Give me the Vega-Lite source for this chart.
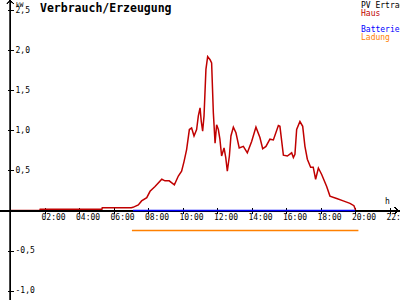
{
  "$schema": "https://vega.github.io/schema/vega-lite/v6.json",
  "width": 400,
  "height": 300,
  "autosize": {"type": "none"},
  "padding": 0,
  "background": "white",
  "config": {"view": {"stroke": null}, "font": "DejaVu Sans Mono",
    "axisX": {"orient": "bottom", "offset": -92.5, "labelExpr": "(datum.value < 10 ? '0' : '') + datum.value + ':00'", "domain": false, "grid": false, "tickSize": 6, "tickColor": "black", "tickWidth": 1, "labelFont": "DejaVu Sans Mono", "labelFontSize": 8, "labelColor": "black", "labelAlign": "left", "labelOffset": -4, "labelPadding": 0, "labelBound": false, "labelOverlap": false, "labelSeparation": 0, "labelFlush": false, "titleFont": "DejaVu Sans Mono", "titleFontSize": 8, "titleFontWeight": "normal", "titleColor": "black", "titleX": 387, "titleY": -4, "titleAlign": "center", "titleBaseline": "alphabetic", "titleAnchor": null},
    "axisY": {"orient": "right", "offset": -392.5, "labelExpr": "replace(replace(format(datum.value, '.1f'), '.', ','), '\u2212', '-')", "domain": false, "grid": false, "tickSize": 6, "tickColor": "black", "tickWidth": 1, "labelFont": "DejaVu Sans Mono", "labelFontSize": 8, "labelColor": "black", "labelPadding": 1.5, "labelBound": false, "labelOverlap": false, "labelFlush": false, "labelAlign": "left", "labelBaseline": "middle", "titleFont": "DejaVu Sans Mono", "titleFontSize": 6.5, "titleFontWeight": "normal", "titleColor": "black", "titleAngle": 0, "titleX": 7.7, "titleY": 6, "titleAlign": "left", "titleBaseline": "alphabetic", "titleAnchor": null}
  },
  "title": {"text": "Verbrauch/Erzeugung", "anchor": "start", "frame": "group", "orient": "top", "offset": -25, "dx": 40, "baseline": "alphabetic", "font": "DejaVu Sans Mono", "fontSize": 11.5, "fontWeight": "bold", "color": "black"},
  "data": {"values": [
    {"t": 0, "kw": 0, "s": "Haus"},
    {"t": 1.7, "kw": 0, "s": "Haus"},
    {"t": 1.72, "kw": 0.015, "s": "Haus"},
    {"t": 5.3, "kw": 0.015, "s": "Haus"},
    {"t": 5.32, "kw": 0.035, "s": "Haus"},
    {"t": 7.0, "kw": 0.035, "s": "Haus"},
    {"t": 7.1, "kw": 0.04, "s": "Haus"},
    {"t": 7.41, "kw": 0.07, "s": "Haus"},
    {"t": 7.6, "kw": 0.12, "s": "Haus"},
    {"t": 7.9, "kw": 0.16, "s": "Haus"},
    {"t": 8.09, "kw": 0.24, "s": "Haus"},
    {"t": 8.38, "kw": 0.30, "s": "Haus"},
    {"t": 8.77, "kw": 0.39, "s": "Haus"},
    {"t": 8.96, "kw": 0.37, "s": "Haus"},
    {"t": 9.2, "kw": 0.37, "s": "Haus"},
    {"t": 9.5, "kw": 0.32, "s": "Haus"},
    {"t": 9.73, "kw": 0.43, "s": "Haus"},
    {"t": 9.92, "kw": 0.49, "s": "Haus"},
    {"t": 10.06, "kw": 0.61, "s": "Haus"},
    {"t": 10.21, "kw": 0.76, "s": "Haus"},
    {"t": 10.37, "kw": 1.01, "s": "Haus"},
    {"t": 10.5, "kw": 1.03, "s": "Haus"},
    {"t": 10.64, "kw": 0.93, "s": "Haus"},
    {"t": 10.79, "kw": 1.01, "s": "Haus"},
    {"t": 10.89, "kw": 1.18, "s": "Haus"},
    {"t": 10.99, "kw": 1.28, "s": "Haus"},
    {"t": 11.06, "kw": 1.11, "s": "Haus"},
    {"t": 11.14, "kw": 0.99, "s": "Haus"},
    {"t": 11.22, "kw": 1.18, "s": "Haus"},
    {"t": 11.33, "kw": 1.76, "s": "Haus"},
    {"t": 11.43, "kw": 1.92, "s": "Haus"},
    {"t": 11.57, "kw": 1.88, "s": "Haus"},
    {"t": 11.66, "kw": 1.84, "s": "Haus"},
    {"t": 11.76, "kw": 1.22, "s": "Haus"},
    {"t": 11.86, "kw": 0.84, "s": "Haus"},
    {"t": 11.95, "kw": 1.07, "s": "Haus"},
    {"t": 12.05, "kw": 1.01, "s": "Haus"},
    {"t": 12.14, "kw": 0.89, "s": "Haus"},
    {"t": 12.24, "kw": 0.68, "s": "Haus"},
    {"t": 12.38, "kw": 0.78, "s": "Haus"},
    {"t": 12.48, "kw": 0.66, "s": "Haus"},
    {"t": 12.57, "kw": 0.49, "s": "Haus"},
    {"t": 12.69, "kw": 0.68, "s": "Haus"},
    {"t": 12.78, "kw": 0.93, "s": "Haus"},
    {"t": 12.92, "kw": 1.04, "s": "Haus"},
    {"t": 13.07, "kw": 0.97, "s": "Haus"},
    {"t": 13.26, "kw": 0.78, "s": "Haus"},
    {"t": 13.5, "kw": 0.80, "s": "Haus"},
    {"t": 13.73, "kw": 0.72, "s": "Haus"},
    {"t": 13.98, "kw": 0.86, "s": "Haus"},
    {"t": 14.23, "kw": 1.04, "s": "Haus"},
    {"t": 14.46, "kw": 0.91, "s": "Haus"},
    {"t": 14.62, "kw": 0.77, "s": "Haus"},
    {"t": 14.81, "kw": 0.80, "s": "Haus"},
    {"t": 15.04, "kw": 0.89, "s": "Haus"},
    {"t": 15.24, "kw": 0.88, "s": "Haus"},
    {"t": 15.53, "kw": 1.06, "s": "Haus"},
    {"t": 15.62, "kw": 1.05, "s": "Haus"},
    {"t": 15.82, "kw": 0.69, "s": "Haus"},
    {"t": 16.05, "kw": 0.68, "s": "Haus"},
    {"t": 16.3, "kw": 0.72, "s": "Haus"},
    {"t": 16.4, "kw": 0.66, "s": "Haus"},
    {"t": 16.49, "kw": 0.70, "s": "Haus"},
    {"t": 16.59, "kw": 1.01, "s": "Haus"},
    {"t": 16.78, "kw": 1.11, "s": "Haus"},
    {"t": 16.94, "kw": 1.05, "s": "Haus"},
    {"t": 17.07, "kw": 0.80, "s": "Haus"},
    {"t": 17.21, "kw": 0.64, "s": "Haus"},
    {"t": 17.4, "kw": 0.54, "s": "Haus"},
    {"t": 17.55, "kw": 0.54, "s": "Haus"},
    {"t": 17.69, "kw": 0.39, "s": "Haus"},
    {"t": 17.85, "kw": 0.53, "s": "Haus"},
    {"t": 18.04, "kw": 0.45, "s": "Haus"},
    {"t": 18.33, "kw": 0.30, "s": "Haus"},
    {"t": 18.52, "kw": 0.18, "s": "Haus"},
    {"t": 18.91, "kw": 0.15, "s": "Haus"},
    {"t": 19.29, "kw": 0.12, "s": "Haus"},
    {"t": 19.68, "kw": 0.09, "s": "Haus"},
    {"t": 19.91, "kw": 0.06, "s": "Haus"},
    {"t": 20.0, "kw": 0.01, "s": "Haus"},
    {"t": 20.02, "kw": 0, "s": "Haus"},
    {"t": 7.1, "kw": 0, "s": "Batterie"},
    {"t": 19.97, "kw": 0, "s": "Batterie"},
    {"t": 7.04, "kw": -0.25, "s": "Ladung"},
    {"t": 20.17, "kw": -0.25, "s": "Ladung"}
  ]},
  "layer": [
    {
      "mark": {"type": "line", "strokeWidth": 1.5, "interpolate": "linear"},
      "transform": [{"filter": "datum.s != 'Batterie'"}],
      "encoding": {
        "x": {"field": "t", "type": "quantitative",
          "scale": {"domain": [-0.6087, 22.5813], "nice": false, "zero": false},
          "axis": {"title": "h", "labelOverlap": false, "values": [2, 4, 6, 8, 10, 12, 14, 16, 18, 20, 22]}
        },
        "y": {"field": "kw", "type": "quantitative",
          "scale": {"domain": [-1.1155, 2.625], "nice": false, "zero": false},
          "axis": {"title": "kW", "labelOverlap": false, "values": [-1, -0.5, 0.5, 1, 1.5, 2, 2.5]}
        },
        "color": {"field": "s", "type": "nominal",
          "scale": {"domain": ["PV Ertrag", "Haus", " ", "Batterie", "Ladung"], "range": ["#000000", "#c00000", "#ffffff", "#0000ff", "#ff8000"]},
          "legend": {"orient": "none", "legendX": 353, "legendY": 2, "title": null, "padding": 0, "symbolSize": 0, "symbolOpacity": 0, "symbolStrokeWidth": 0, "labelOffset": 0, "rowPadding": 0, "labelFont": "DejaVu Sans Mono", "labelFontSize": 8, "labelLimit": 0,
            "encode": {"labels": {"update": {"fill": {"scale": "color", "field": "value"}}}}}
        }
      }
    },
    {
      "mark": {"type": "rule", "color": "black", "strokeWidth": 1},
      "encoding": {
        "y": {"datum": 0, "type": "quantitative", "axis": {"title": "kW", "labelOverlap": false, "values": [-1, -0.5, 0.5, 1, 1.5, 2, 2.5]}}
      }
    },
    {
      "mark": {"type": "rule", "color": "black", "strokeWidth": 1},
      "encoding": {
        "x": {"datum": 0, "type": "quantitative", "axis": {"title": "h", "labelOverlap": false, "values": [2, 4, 6, 8, 10, 12, 14, 16, 18, 20, 22]}}
      }
    },
    {
      "mark": {"type": "line", "strokeWidth": 1.5, "interpolate": "linear"},
      "transform": [{"filter": "datum.s == 'Batterie'"}],
      "encoding": {
        "x": {"field": "t", "type": "quantitative", "axis": {"title": "h", "labelOverlap": false, "values": [2, 4, 6, 8, 10, 12, 14, 16, 18, 20, 22]}},
        "y": {"field": "kw", "type": "quantitative", "axis": {"title": "kW", "labelOverlap": false, "values": [-1, -0.5, 0.5, 1, 1.5, 2, 2.5]}},
        "color": {"field": "s", "type": "nominal"}
      }
    },
    {
      "mark": {"type": "point", "filled": false, "stroke": "black", "strokeWidth": 1, "size": 36, "opacity": 1, "shape": "M-1,0.5L0,-0.5L1,0.5"},
      "encoding": {
        "x": {"datum": 0, "type": "quantitative", "axis": {"title": "h", "labelOverlap": false, "values": [2, 4, 6, 8, 10, 12, 14, 16, 18, 20, 22]}},
        "y": {"datum": 2.6, "type": "quantitative", "axis": {"title": "kW", "labelOverlap": false, "values": [-1, -0.5, 0.5, 1, 1.5, 2, 2.5]}}
      }
    },
    {
      "mark": {"type": "point", "filled": false, "stroke": "black", "strokeWidth": 1, "size": 36, "opacity": 1, "shape": "M-0.5,-1L0.5,0L-0.5,1"},
      "encoding": {
        "x": {"datum": 22.39, "type": "quantitative", "axis": {"title": "h", "labelOverlap": false, "values": [2, 4, 6, 8, 10, 12, 14, 16, 18, 20, 22]}},
        "y": {"datum": 0, "type": "quantitative", "axis": {"title": "kW", "labelOverlap": false, "values": [-1, -0.5, 0.5, 1, 1.5, 2, 2.5]}}
      }
    }
  ]
}
